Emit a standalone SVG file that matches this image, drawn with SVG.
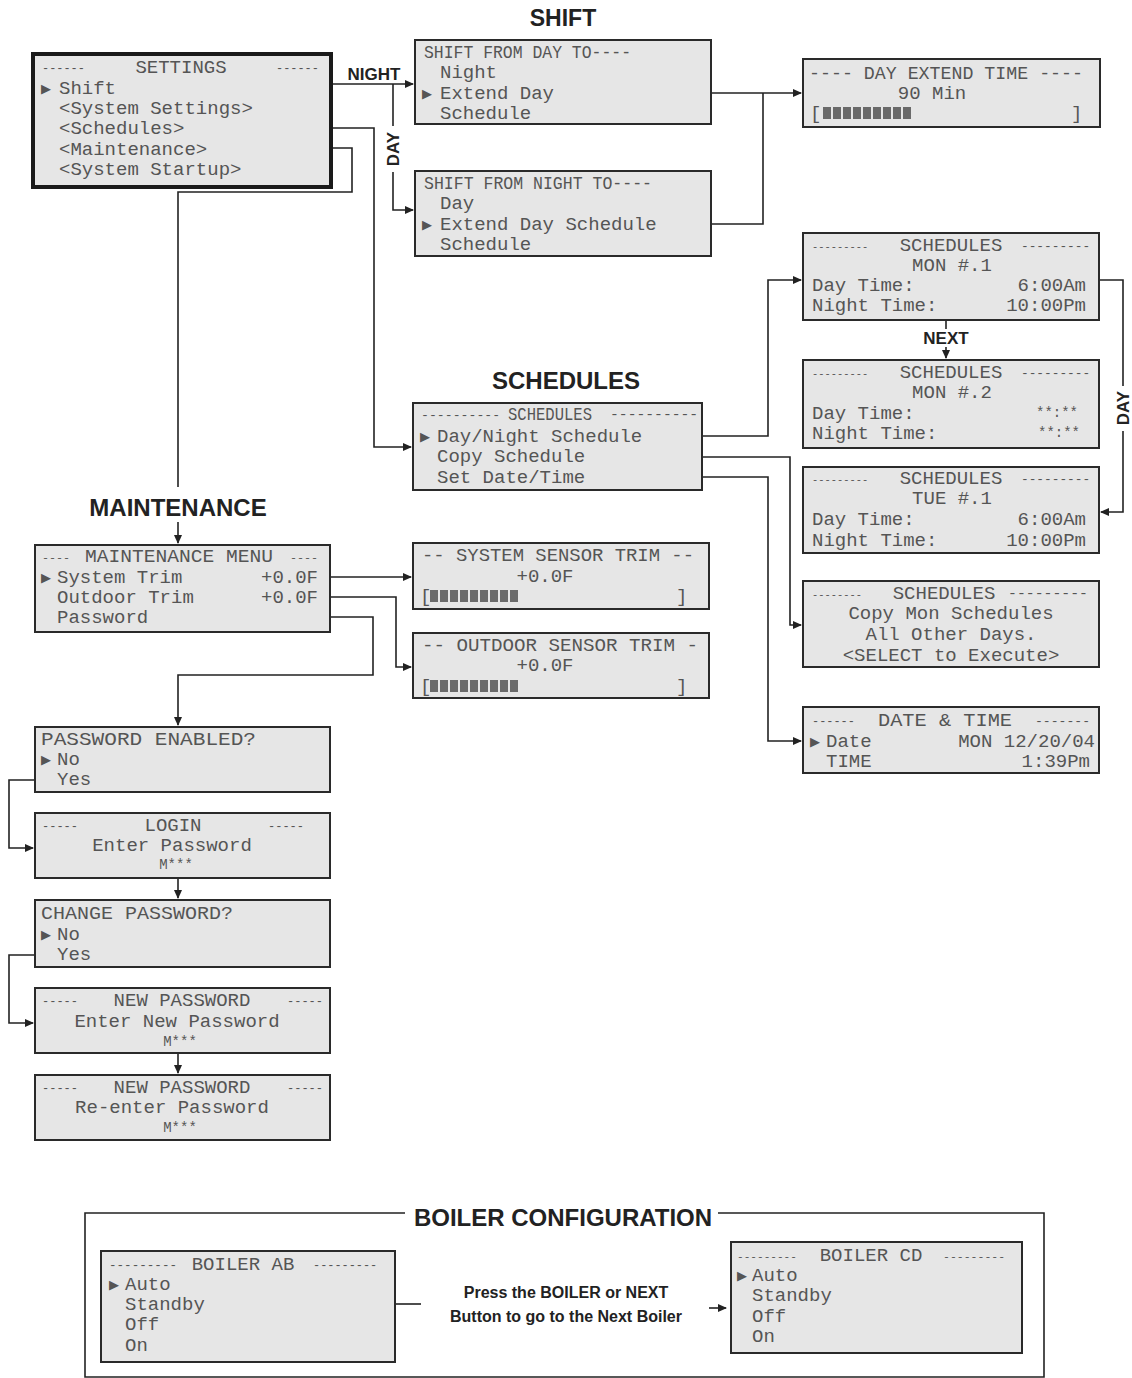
<svg xmlns="http://www.w3.org/2000/svg" width="1132" height="1378" viewBox="0 0 1132 1378">
<style>
.lcd{fill:#e6e6e6;stroke:#2a2a2a;stroke-width:2}
.lcdb{fill:#e6e6e6;stroke:#1a1a1a;stroke-width:4}
.t{font-family:"Liberation Mono","DejaVu Sans Mono",monospace;font-size:19px;fill:#555}
.m{text-anchor:middle}
.e{text-anchor:end}
.s{font-size:14px}
.p{font-family:"DejaVu Sans",sans-serif;font-size:13px;fill:#555}
.h{font-family:"Liberation Sans",Arial,sans-serif;font-weight:bold;fill:#222}
.c{fill:none;stroke:#222;stroke-width:1.6}
.blk{fill:#6a6a6a}
</style>
<defs>
<marker id="ar" markerWidth="9" markerHeight="8" refX="8" refY="4" orient="auto" markerUnits="userSpaceOnUse"><path d="M0,0 L9,4 L0,8 z" fill="#222"/></marker>
<g id="bar">
<rect class="blk" x="0" y="-6" width="8" height="12"/><rect class="blk" x="10" y="-6" width="8" height="12"/><rect class="blk" x="20" y="-6" width="8" height="12"/><rect class="blk" x="30" y="-6" width="8" height="12"/><rect class="blk" x="40" y="-6" width="8" height="12"/><rect class="blk" x="50" y="-6" width="8" height="12"/><rect class="blk" x="60" y="-6" width="8" height="12"/><rect class="blk" x="70" y="-6" width="8" height="12"/><rect class="blk" x="80" y="-6" width="8" height="12"/>
</g>
</defs>
<rect width="1132" height="1378" fill="#fff"/>

<!-- headings -->
<text class="h m" x="563" y="26" font-size="23">SHIFT</text>
<text class="h m" x="566" y="389" font-size="24">SCHEDULES</text>
<text class="h m" x="178" y="516" font-size="24">MAINTENANCE</text>

<g id="connectors">
<path class="c" d="M331,84 H413" marker-end="url(#ar)"/>
<path class="c" d="M393,84 V126"/>
<path class="c" d="M393,172 V210 H413" marker-end="url(#ar)"/>
<path class="c" d="M711,93 H801" marker-end="url(#ar)"/>
<path class="c" d="M711,224 H763 V93"/>
<path class="c" d="M331,128 H374 V447 H411" marker-end="url(#ar)"/>
<path class="c" d="M331,148 H352 V192 H178 V487"/>
<path class="c" d="M178,522 V543" marker-end="url(#ar)"/>
<path class="c" d="M702,436 H768 V280 H801" marker-end="url(#ar)"/>
<path class="c" d="M702,457 H790 V625 H801" marker-end="url(#ar)"/>
<path class="c" d="M702,477 H768 V741 H801" marker-end="url(#ar)"/>
<path class="c" d="M946,320 V329"/>
<path class="c" d="M946,347 V358" marker-end="url(#ar)"/>
<path class="c" d="M1099,280 H1123 V386"/>
<path class="c" d="M1123,431 V512 H1101" marker-end="url(#ar)"/>
<path class="c" d="M330,577 H411" marker-end="url(#ar)"/>
<path class="c" d="M330,597 H396 V667 H411" marker-end="url(#ar)"/>
<path class="c" d="M330,617 H373 V675 H178 V725" marker-end="url(#ar)"/>
<path class="c" d="M35,780 H9 V848 H33" marker-end="url(#ar)"/>
<path class="c" d="M178,878 V898" marker-end="url(#ar)"/>
<path class="c" d="M35,955 H9 V1023 H33" marker-end="url(#ar)"/>
<path class="c" d="M178,1053 V1073" marker-end="url(#ar)"/>
<path class="c" d="M395,1304 H421"/>
<path class="c" d="M709,1308 H726" marker-end="url(#ar)"/>
<path class="c" d="M405,1213 H85 V1377 H1044 V1213 H718"/>
<text class="h m" x="374" y="80" font-size="17">NIGHT</text>
<text class="h m" transform="translate(399,149) rotate(-90)" font-size="17">DAY</text>
<text class="h m" x="946" y="344" font-size="17">NEXT</text>
<text class="h m" transform="translate(1129,408) rotate(-90)" font-size="17">DAY</text>
<text class="h m" x="566" y="1298" font-size="16">Press the BOILER or NEXT</text>
<text class="h m" x="566" y="1322" font-size="16">Button to go to the Next Boiler</text>
<text class="h m" x="563" y="1226" font-size="24">BOILER CONFIGURATION</text>
</g>

<g id="settings">
<rect class="lcdb" x="33" y="54" width="298" height="133"/>
<text class="t" x="42" y="72" style="font-size:11.9px">------</text>
<text class="t m" x="181" y="73">SETTINGS</text>
<text class="t" x="276" y="72" style="font-size:11.9px">------</text>
<text class="p" x="41" y="93">▶</text>
<text class="t" x="59" y="94">Shift</text>
<text class="t" x="59" y="114">&lt;System Settings&gt;</text>
<text class="t" x="59" y="134">&lt;Schedules&gt;</text>
<text class="t" x="59" y="155">&lt;Maintenance&gt;</text>
<text class="t" x="59" y="175">&lt;System Startup&gt;</text>
</g>

<g id="shift-day">
<rect class="lcd" x="415" y="40" width="296" height="84"/>
<text class="t" x="424" y="58" textLength="207" lengthAdjust="spacingAndGlyphs">SHIFT FROM DAY TO----</text>
<text class="t" x="440" y="78">Night</text>
<text class="p" x="422" y="98">▶</text>
<text class="t" x="440" y="99">Extend Day</text>
<text class="t" x="440" y="119">Schedule</text>
</g>

<g id="shift-night">
<rect class="lcd" x="415" y="171" width="296" height="85"/>
<text class="t" x="424" y="189" textLength="228" lengthAdjust="spacingAndGlyphs">SHIFT FROM NIGHT TO----</text>
<text class="t" x="440" y="209">Day</text>
<text class="p" x="422" y="229">▶</text>
<text class="t" x="440" y="230">Extend Day Schedule</text>
<text class="t" x="440" y="250">Schedule</text>
</g>

<g id="day-extend">
<rect class="lcd" x="803" y="59" width="297" height="68"/>
<text class="t m" x="946" y="79" textLength="274" lengthAdjust="spacingAndGlyphs">---- DAY EXTEND TIME ----</text>
<text class="t m" x="932" y="99">90 Min</text>
<text class="t" x="810" y="119">[</text>
<use href="#bar" x="823" y="113"/>
<text class="t" x="1071" y="119">]</text>
</g>

<g id="schedules">
<rect class="lcd" x="413" y="403" width="289" height="87"/>
<text class="t" x="421" y="419" style="font-size:13.2px">----------</text>
<text class="t m" x="550" y="420" textLength="84" lengthAdjust="spacingAndGlyphs">SCHEDULES</text>
<text class="t" x="610" y="419" style="font-size:14.7px">----------</text>
<text class="p" x="420" y="441">▶</text>
<text class="t" x="437" y="442">Day/Night Schedule</text>
<text class="t" x="437" y="462">Copy Schedule</text>
<text class="t" x="437" y="483">Set Date/Time</text>
</g>

<g id="mon1">
<rect class="lcd" x="803" y="233" width="296" height="87"/>
<text class="t" x="812" y="250" style="font-size:10.4px">---------</text>
<text class="t m" x="951" y="251">SCHEDULES</text>
<text class="t" x="1021" y="250" style="font-size:12.8px">---------</text>
<text class="t m" x="952" y="271">MON #.1</text>
<text class="t" x="812" y="291">Day Time:</text>
<text class="t e" x="1086" y="291">6:00Am</text>
<text class="t" x="812" y="311">Night Time:</text>
<text class="t e" x="1086" y="311">10:00Pm</text>
</g>

<g id="mon2">
<rect class="lcd" x="803" y="360" width="296" height="88"/>
<text class="t" x="812" y="377" style="font-size:10.4px">---------</text>
<text class="t m" x="951" y="378">SCHEDULES</text>
<text class="t" x="1021" y="377" style="font-size:12.8px">---------</text>
<text class="t m" x="952" y="398">MON #.2</text>
<text class="t" x="812" y="419">Day Time:</text>
<text class="t e s" x="1078" y="417">**:**</text>
<text class="t" x="812" y="439">Night Time:</text>
<text class="t e s" x="1080" y="437">**:**</text>
</g>

<g id="tue1">
<rect class="lcd" x="803" y="467" width="296" height="86"/>
<text class="t" x="812" y="483" style="font-size:10.4px">---------</text>
<text class="t m" x="951" y="484">SCHEDULES</text>
<text class="t" x="1021" y="483" style="font-size:12.8px">---------</text>
<text class="t m" x="952" y="504">TUE #.1</text>
<text class="t" x="812" y="525">Day Time:</text>
<text class="t e" x="1086" y="525">6:00Am</text>
<text class="t" x="812" y="546">Night Time:</text>
<text class="t e" x="1086" y="546">10:00Pm</text>
</g>

<g id="copy">
<rect class="lcd" x="803" y="581" width="296" height="86"/>
<text class="t" x="812" y="598" style="font-size:10.4px">--------</text>
<text class="t m" x="944" y="599">SCHEDULES</text>
<text class="t" x="1008" y="598" style="font-size:14.8px">---------</text>
<text class="t m" x="951" y="619">Copy Mon Schedules</text>
<text class="t m" x="951" y="640">All Other Days.</text>
<text class="t m" x="951" y="661">&lt;SELECT to Execute&gt;</text>
</g>

<g id="datetime">
<rect class="lcd" x="803" y="707" width="296" height="66"/>
<text class="t" x="812" y="725" style="font-size:11.9px">------</text>
<text class="t m" x="945" y="726" textLength="134" lengthAdjust="spacingAndGlyphs">DATE &amp; TIME</text>
<text class="t" x="1035" y="725" style="font-size:13.1px">-------</text>
<text class="p" x="810" y="746">▶</text>
<text class="t" x="826" y="747">Date</text>
<text class="t e" x="1095" y="747">MON 12/20/04</text>
<text class="t" x="826" y="767">TIME</text>
<text class="t e" x="1090" y="767">1:39Pm</text>
</g>

<g id="maintenance">
<rect class="lcd" x="35" y="545" width="295" height="87"/>
<text class="t" x="42" y="561" style="font-size:11.7px">----</text>
<text class="t m" x="179" y="562" textLength="188" lengthAdjust="spacingAndGlyphs">MAINTENANCE MENU</text>
<text class="t" x="290" y="561" style="font-size:11.7px">----</text>
<text class="p" x="41" y="582">▶</text>
<text class="t" x="57" y="583">System Trim</text>
<text class="t e" x="318" y="583">+0.0F</text>
<text class="t" x="57" y="603">Outdoor Trim</text>
<text class="t e" x="318" y="603">+0.0F</text>
<text class="t" x="57" y="623">Password</text>
</g>

<g id="system-trim">
<rect class="lcd" x="413" y="543" width="296" height="66"/>
<text class="t" x="422" y="561" textLength="272" lengthAdjust="spacingAndGlyphs">-- SYSTEM SENSOR TRIM --</text>
<text class="t m" x="545" y="582">+0.0F</text>
<text class="t" x="420" y="602">[</text>
<use href="#bar" x="430" y="596"/>
<text class="t" x="676" y="602">]</text>
</g>

<g id="outdoor-trim">
<rect class="lcd" x="413" y="633" width="296" height="65"/>
<text class="t" x="422" y="651" textLength="276" lengthAdjust="spacingAndGlyphs">-- OUTDOOR SENSOR TRIM -</text>
<text class="t m" x="545" y="671">+0.0F</text>
<text class="t" x="420" y="692">[</text>
<use href="#bar" x="430" y="686"/>
<text class="t" x="676" y="692">]</text>
</g>

<g id="password-enabled">
<rect class="lcd" x="35" y="727" width="295" height="65"/>
<text class="t" x="41" y="745" textLength="215" lengthAdjust="spacingAndGlyphs">PASSWORD ENABLED?</text>
<text class="p" x="41" y="764">▶</text>
<text class="t" x="57" y="765">No</text>
<text class="t" x="57" y="785">Yes</text>
</g>

<g id="login">
<rect class="lcd" x="35" y="813" width="295" height="65"/>
<text class="t" x="42" y="830" style="font-size:12px">-----</text>
<text class="t m" x="173" y="831">LOGIN</text>
<text class="t" x="268" y="830" style="font-size:12px">-----</text>
<text class="t m" x="172" y="851">Enter Password</text>
<text class="t m s" x="176" y="869">M***</text>
</g>

<g id="change-password">
<rect class="lcd" x="35" y="900" width="295" height="67"/>
<text class="t" x="41" y="919" textLength="192" lengthAdjust="spacingAndGlyphs">CHANGE PASSWORD?</text>
<text class="p" x="41" y="939">▶</text>
<text class="t" x="57" y="940">No</text>
<text class="t" x="57" y="960">Yes</text>
</g>

<g id="new-password">
<rect class="lcd" x="35" y="988" width="295" height="65"/>
<text class="t" x="42" y="1005" style="font-size:12px">-----</text>
<text class="t m" x="182" y="1006">NEW PASSWORD</text>
<text class="t" x="287" y="1005" style="font-size:12px">-----</text>
<text class="t m" x="177" y="1027">Enter New Password</text>
<text class="t m s" x="180" y="1046">M***</text>
</g>

<g id="reenter-password">
<rect class="lcd" x="35" y="1075" width="295" height="65"/>
<text class="t" x="42" y="1092" style="font-size:12px">-----</text>
<text class="t m" x="182" y="1093">NEW PASSWORD</text>
<text class="t" x="287" y="1092" style="font-size:12px">-----</text>
<text class="t m" x="172" y="1113">Re-enter Password</text>
<text class="t m s" x="180" y="1132">M***</text>
</g>

<g id="boiler-ab">
<rect class="lcd" x="101" y="1251" width="294" height="111"/>
<text class="t" x="109" y="1269" style="font-size:12.6px">---------</text>
<text class="t m" x="243" y="1270">BOILER AB</text>
<text class="t" x="313" y="1269" style="font-size:11.9px">---------</text>
<text class="p" x="109" y="1289">▶</text>
<text class="t" x="125" y="1290">Auto</text>
<text class="t" x="125" y="1310">Standby</text>
<text class="t" x="125" y="1330">Off</text>
<text class="t" x="125" y="1351">On</text>
</g>

<g id="boiler-cd">
<rect class="lcd" x="731" y="1242" width="291" height="111"/>
<text class="t" x="737" y="1260" style="font-size:11.1px">---------</text>
<text class="t m" x="871" y="1261">BOILER CD</text>
<text class="t" x="943" y="1260" style="font-size:11.5px">---------</text>
<text class="p" x="737" y="1280">▶</text>
<text class="t" x="752" y="1281">Auto</text>
<text class="t" x="752" y="1301">Standby</text>
<text class="t" x="752" y="1322">Off</text>
<text class="t" x="752" y="1342">On</text>
</g>
</svg>
